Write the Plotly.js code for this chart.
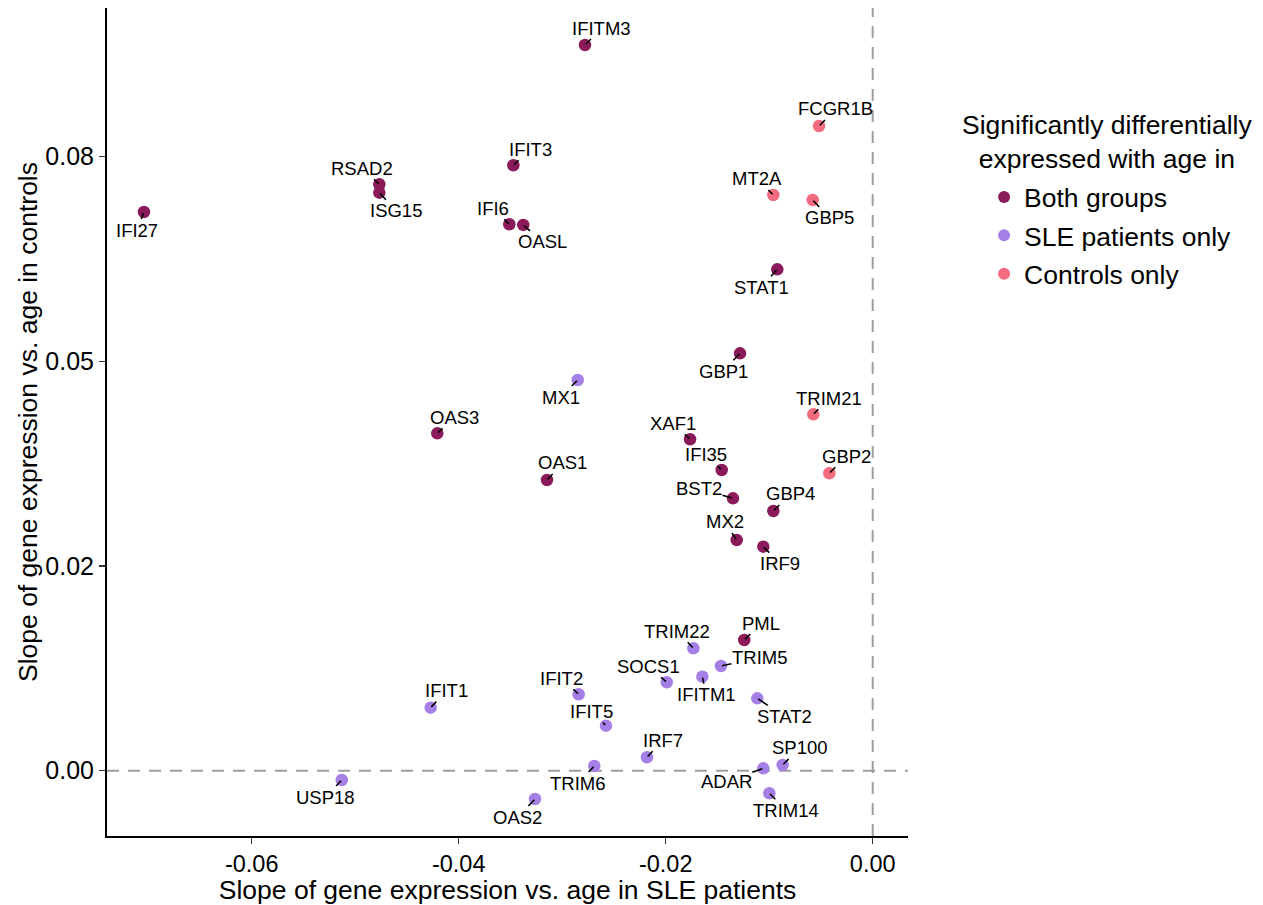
<!DOCTYPE html>
<html>
<head>
<meta charset="utf-8">
<script src="https://cdn.plot.ly/plotly-3.0.1.min.js"></script>
<style>html,body{margin:0;padding:0;background:#fff;}#chart{width:1263px;height:905px;}</style>
</head>
<body>
<div id="chart"></div>
<script>
// ---- data ----
const genes = ["IFITM3","FCGR1B","IFIT3","RSAD2","ISG15","IFI27","MT2A","GBP5","IFI6","OASL",
  "STAT1","GBP1","MX1","TRIM21","OAS3","XAF1","IFI35","GBP2","OAS1","BST2",
  "GBP4","MX2","IRF9","PML","TRIM22","TRIM5","SOCS1","IFITM1","IFIT2","STAT2",
  "IFIT1","IFIT5","IRF7","TRIM6","SP100","ADAR","USP18","TRIM14","OAS2"];
const slopeSLE = [-0.02780,-0.00519,-0.03472,-0.04767,-0.04767,-0.07041,-0.00960,-0.00580,-0.03511,-0.03376,
  -0.00922,-0.01282,-0.02850,-0.00574,-0.04207,-0.01765,-0.01459,-0.00419,-0.03147,-0.01350,
  -0.00960,-0.01314,-0.01057,-0.01241,-0.01733,-0.01466,-0.01990,-0.01646,-0.02841,-0.01115,
  -0.04271,-0.02577,-0.02181,-0.02690,-0.00870,-0.01057,-0.05130,-0.00999,-0.03263];
const slopeControls = [0.08864,0.07875,0.07395,0.07163,0.07060,0.06824,0.07032,0.06971,0.06674,0.06666,
  0.06124,0.05098,0.04772,0.04353,0.04121,0.04048,0.03673,0.03633,0.03551,0.03327,
  0.03172,0.02818,0.02736,0.01596,0.01495,0.01279,0.01080,0.01148,0.00933,0.00884,
  0.00770,0.00550,0.00164,0.00057,0.00070,0.00029,-0.00114,-0.00276,-0.00346];
const group = ["Both groups","Controls only","Both groups","Both groups","Both groups","Both groups","Controls only","Controls only","Both groups","Both groups",
  "Both groups","Both groups","SLE patients only","Controls only","Both groups","Both groups","Both groups","Controls only","Both groups","Both groups",
  "Both groups","Both groups","Both groups","Both groups","SLE patients only","SLE patients only","SLE patients only","SLE patients only","SLE patients only","SLE patients only",
  "SLE patients only","SLE patients only","SLE patients only","SLE patients only","SLE patients only","SLE patients only","SLE patients only","SLE patients only","SLE patients only"];
const groupNames = ["Both groups","SLE patients only","Controls only"];
const legendTitle = "Significantly differentially<br>expressed with age in";
const yTickVals = [0, 0.025, 0.05, 0.075];
const yTickText = ["0.00","0.02","0.05","0.08"];
const xTickVals = [-0.06, -0.04, -0.02, 0];
const xTickText = ["-0.06","-0.04","-0.02","0.00"];

// ---- styles (label placement offsets in px, colours) ----
const groupColors = {"Both groups":"#8B1A5B","SLE patients only":"#A47FE6","Controls only":"#F26B7F"};
const labelOffset = {
  IFITM3:[17,-17], FCGR1B:[17,-17], IFIT3:[17,-16], RSAD2:[-17,-16], ISG15:[17,18],
  IFI27:[-7,18], MT2A:[-16,-16], GBP5:[17,18], IFI6:[-16,-16], OASL:[19,17],
  STAT1:[-16,18], GBP1:[-17,18], MX1:[-17,17], TRIM21:[16,-16], OAS3:[17,-16],
  XAF1:[-17,-16], IFI35:[-16,-15], GBP2:[17,-17], OAS1:[16,-17], BST2:[-34,-10],
  GBP4:[17,-17], MX2:[-12,-18], IRF9:[17,17], PML:[17,-17], TRIM22:[-16,-17],
  TRIM5:[39,-8], SOCS1:[-18,-16], IFITM1:[4,18], IFIT2:[-17,-16], STAT2:[27,18],
  IFIT1:[16,-17], IFIT5:[-14,-14], IRF7:[16,-17], TRIM6:[-16,17], SP100:[17,-17],
  ADAR:[-37,13], USP18:[-16,17], TRIM14:[17,17], OAS2:[-17,18]
};
const FONT = "Liberation Sans, Arial, Helvetica, sans-serif";

const traces = groupNames.map(g => {
  const idx = genes.map((_, i) => i).filter(i => group[i] === g);
  return {
    type: "scatter", mode: "markers", name: g, legendgroup: g,
    x: idx.map(i => slopeSLE[i]), y: idx.map(i => slopeControls[i]),
    text: idx.map(i => genes[i]),
    marker: {size: 12.5, color: groupColors[g]},
    hoverinfo: "text+x+y"
  };
});

const annotations = genes.map((gname, i) => ({
  x: slopeSLE[i], y: slopeControls[i], xref: "x", yref: "y",
  text: gname, showarrow: true, arrowhead: 0, arrowwidth: 1.6, arrowcolor: "#000",
  standoff: 1, ax: labelOffset[gname][0], ay: labelOffset[gname][1],
  font: {family: FONT, size: 18.5, color: "#000"}, borderpad: 0
}));
annotations.push({
  xref: "paper", yref: "paper", x: 1.2484, y: 0.8376, xanchor: "center", yanchor: "middle",
  text: legendTitle, showarrow: false, align: "center",
  font: {family: FONT, size: 26.5, color: "#000"}
});

const layout = {
  width: 1263, height: 905,
  margin: {l: 107, r: 355, t: 8, b: 69},
  paper_bgcolor: "#fff", plot_bgcolor: "#fff",
  font: {family: FONT, color: "#000"},
  xaxis: {
    range: [-0.07398, 0.00341], showgrid: false, zeroline: false,
    showline: true, linecolor: "#000", linewidth: 2, mirror: false,
    ticks: "outside", ticklen: 6, tickwidth: 1.5, tickcolor: "#333",
    tickvals: xTickVals, ticktext: xTickText,
    tickfont: {size: 23.5, color: "#000"},
    title: {text: "Slope of gene expression vs. age in SLE patients", font: {size: 26.5, color: "#000"}, standoff: 6}
  },
  yaxis: {
    range: [-0.00798, 0.09316], showgrid: false, zeroline: false,
    showline: true, linecolor: "#000", linewidth: 2,
    ticks: "outside", ticklen: 6, tickwidth: 1.5, tickcolor: "#333",
    tickvals: yTickVals, ticktext: yTickText,
    tickfont: {size: 25, color: "#000"},
    title: {text: "Slope of gene expression vs. age in controls", font: {size: 26.5, color: "#000"}, standoff: 0}
  },
  shapes: [
    {type: "line", xref: "x", yref: "paper", x0: 0, x1: 0, y0: 0, y1: 1, layer: "below",
     line: {color: "#9e9e9e", width: 2, dash: "12px,9px"}},
    {type: "line", xref: "paper", yref: "y", x0: 0, x1: 1, y0: 0, y1: 0, layer: "below",
     line: {color: "#9e9e9e", width: 2, dash: "12px,9px"}}
  ],
  showlegend: true,
  legend: {
    x: 1.095, xanchor: "left", y: 0.8005, yanchor: "top",
    font: {size: 26.5, color: "#000"},
    tracegroupgap: 1, itemsizing: "constant", bgcolor: "rgba(0,0,0,0)"
  },
  annotations: annotations
};

Plotly.newPlot("chart", traces, layout, {displayModeBar: false, staticPlot: true});
</script>
</body>
</html>
